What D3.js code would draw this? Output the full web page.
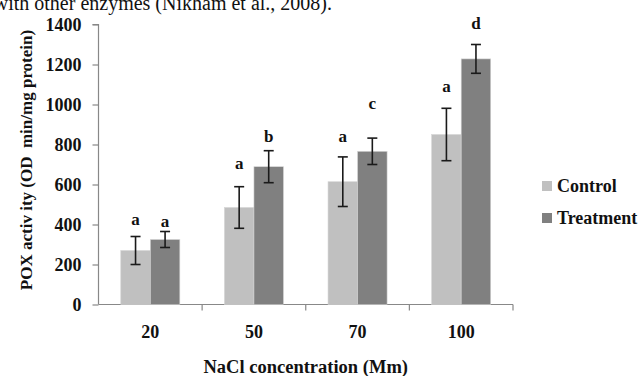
<!DOCTYPE html>
<html>
<head>
<meta charset="utf-8">
<script src="https://cdn.jsdelivr.net/npm/d3@7"></script>
<style>
  html, body { margin: 0; padding: 0; background: #fff; overflow: hidden; }
  text { font-family: "Liberation Serif", "Times New Roman", serif; }
</style>
</head>
<body>
<svg id="chart" width="644" height="376"></svg>
<script>
// ---- data ----
const categories = ["20", "50", "70", "100"];
const seriesNames = ["Control", "Treatment"];
const controlValues = [270, 485, 614, 850];
const treatmentValues = [325, 689, 766, 1228];
const controlErrors = [70, 104, 124, 131];
const treatmentErrors = [40, 80, 66, 72];
const controlLetters = ["a", "a", "a", "a"];
const treatmentLetters = ["a", "b", "c", "d"];
// value-axis heights at which the significance letters are centred
const controlLetterAt = [422, 701, 837, 1087];
const treatmentLetterAt = [412, 840, 1005, 1403];
const yTicks = [0, 200, 400, 600, 800, 1000, 1200, 1400];
const colors = ["#c0c0c0", "#808080"];

const svg = d3.select("#chart");

// partially visible text from the page above the chart
svg.append("text")
  .attr("x", 332).attr("y", 9.5)
  .attr("text-anchor", "end")
  .style("font-size", "20px")
  .attr("fill", "#111")
  .text("with other enzymes (Nikham et al., 2008).");

const mLeft = 98.5, mRight = 513, mTop = 24.5, mBottom = 304.5;

const x0 = d3.scaleBand().domain(categories).range([mLeft, mRight]).padding(0);
const bw = x0.bandwidth();
const x1 = d3.scaleBand().domain(seriesNames).range([bw * 0.215, bw * 0.785]).padding(0);
const y = d3.scaleLinear().domain([0, 1400]).range([mBottom, mTop]);

const rows = categories.map((c, i) => ({
  cat: c,
  items: [
    { s: "Control", v: controlValues[i], e: controlErrors[i], l: controlLetters[i], la: controlLetterAt[i], col: colors[0] },
    { s: "Treatment", v: treatmentValues[i], e: treatmentErrors[i], l: treatmentLetters[i], la: treatmentLetterAt[i], col: colors[1] }
  ]
}));

// axes
const axisColor = "#888";
const yAxis = svg.append("g").attr("transform", `translate(${mLeft},0)`)
  .call(d3.axisLeft(y).tickValues(yTicks).tickSize(6).tickPadding(11).tickFormat(d3.format("d")));
yAxis.select(".domain").attr("stroke", axisColor).attr("stroke-width", 1.2).attr("d", `M-6,${mTop}H0V${mBottom}`);
yAxis.selectAll(".tick line").attr("stroke", axisColor).attr("stroke-width", 1.2);
yAxis.selectAll(".tick text").style("font-size", "18px").style("font-weight", "bold").attr("fill", "#111");

const xAxis = svg.append("g").attr("transform", `translate(0,${mBottom})`)
  .call(d3.axisBottom(x0).tickSize(0).tickPadding(21));
xAxis.select(".domain").attr("stroke", axisColor).attr("stroke-width", 1.2).attr("d", `M${mLeft},0H${mRight}`);
xAxis.selectAll(".tick text").style("font-size", "18px").style("font-weight", "bold").attr("fill", "#111");
// category boundary ticks
xAxis.selectAll(".bound").data(categories).enter().append("line")
  .attr("x1", d => x0(d) + bw).attr("x2", d => x0(d) + bw)
  .attr("y1", 0).attr("y2", 6)
  .attr("stroke", axisColor).attr("stroke-width", 1.2);

// bars
const g = svg.selectAll(".grp").data(rows).enter().append("g")
  .attr("transform", d => `translate(${x0(d.cat)},0)`);

g.selectAll("rect").data(d => d.items).enter().append("rect")
  .attr("x", d => x1(d.s))
  .attr("width", x1.bandwidth())
  .attr("y", d => y(d.v))
  .attr("height", d => y(0) - y(d.v))
  .attr("fill", d => d.col)
  .attr("stroke", "#d6d6d6").attr("stroke-width", 0.6);

// error bars
const eb = g.selectAll(".eb").data(d => d.items).enter().append("g");
const cx = d => x1(d.s) + x1.bandwidth() / 2;
eb.append("line").attr("x1", cx).attr("x2", cx)
  .attr("y1", d => y(d.v + d.e)).attr("y2", d => y(d.v - d.e))
  .attr("stroke", "#1a1a1a").attr("stroke-width", 1.6);
eb.append("line").attr("x1", d => cx(d) - 5).attr("x2", d => cx(d) + 5)
  .attr("y1", d => y(d.v + d.e)).attr("y2", d => y(d.v + d.e))
  .attr("stroke", "#1a1a1a").attr("stroke-width", 1.6);
eb.append("line").attr("x1", d => cx(d) - 5).attr("x2", d => cx(d) + 5)
  .attr("y1", d => y(d.v - d.e)).attr("y2", d => y(d.v - d.e))
  .attr("stroke", "#1a1a1a").attr("stroke-width", 1.6);

// letters
g.selectAll(".lt").data(d => d.items).enter().append("text")
  .attr("x", cx)
  .attr("y", d => y(d.la))
  .attr("dy", "0.3em")
  .attr("text-anchor", "middle")
  .style("font-size", "17px").style("font-weight", "bold")
  .attr("fill", "#111")
  .text(d => d.l);

// axis titles
svg.append("text")
  .attr("x", (mLeft + mRight) / 2).attr("y", 367).attr("dy", "0.35em")
  .attr("text-anchor", "middle")
  .style("font-size", "18.5px").style("font-weight", "bold").attr("fill", "#111")
  .text("NaCl concentration (Mm)");

svg.append("text")
  .attr("transform", "translate(26,160) rotate(-90)")
  .attr("dy", "0.35em")
  .attr("text-anchor", "middle")
  .style("font-size", "17px").style("font-weight", "bold").style("white-space", "pre").attr("fill", "#111")
  .text("POX activ ity (OD  min/mg protein)");

// legend
const lg = svg.selectAll(".lg").data(seriesNames).enter().append("g")
  .attr("transform", (d, i) => `translate(542,${186 + i * 32})`);
lg.append("rect").attr("x", 0).attr("y", -5).attr("width", 10).attr("height", 10)
  .attr("fill", (d, i) => colors[i]);
lg.append("text").attr("x", 15).attr("y", 0).attr("dy", "0.35em")
  .style("font-size", "18px").style("font-weight", "bold").attr("fill", "#111")
  .text(d => d);
</script>
</body>
</html>
